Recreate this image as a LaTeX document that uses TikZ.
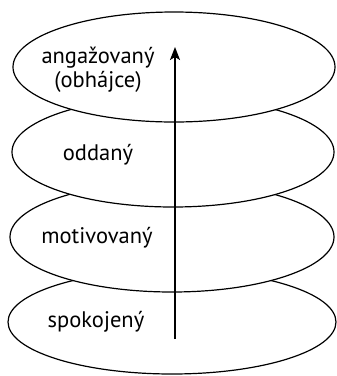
\documentclass[tikz,border=0pt]{standalone}
\usepackage{fontspec}
\setmainfont{PT Sans}
\usetikzlibrary{arrows.meta}
\begin{document}
\begin{tikzpicture}[x=1pt,y=-1pt,
  layer/.style={draw=black, fill=white, line width=1.2pt},
  lbl/.style={font=\fontsize{22.5}{24}\selectfont, align=center, inner sep=0pt},
  axis/.style={line width=1.3pt, -{Stealth[length=13pt,width=10pt,inset=3pt]}}]
  \useasboundingbox (0,0) rectangle (337,376);
  % stacked discs, drawn from the bottom up so each hides the one below
  \draw[layer] (172,322) ellipse [x radius=164, y radius=52];
  \draw[layer] (172,237) ellipse [x radius=162, y radius=55];
  \draw[layer] (173,152) ellipse [x radius=161, y radius=55];
  \draw[layer] (174,67) ellipse [x radius=161, y radius=55];
  % level names
  \node[lbl] (l4) at (98,70) {angažovaný\\(obhájce)};
  \node[lbl] (l3) at (98,155) {oddaný};
  \node[lbl] (l2) at (97,238) {motivovaný};
  \node[lbl] (l1) at (96,322) {spokojený};
  % rising axis
  \coordinate (a0) at (175,339);
  \coordinate (a1) at (175,47);
  \draw[axis] (a0) -- (a1);
\end{tikzpicture}
\end{document}
